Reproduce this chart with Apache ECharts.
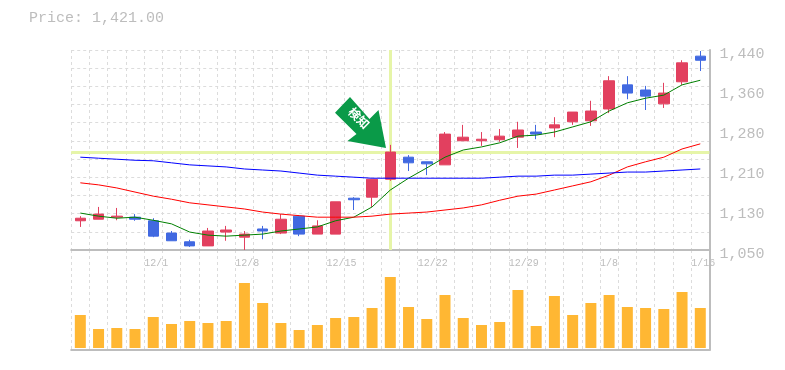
<!DOCTYPE html>
<html><head><meta charset="utf-8">
<style>html,body{margin:0;padding:0;background:#fff}#c{width:785px;height:370px}</style>
<script src="https://cdn.jsdelivr.net/npm/echarts@6/dist/echarts.min.js"></script></head>
<body><div id="c"></div>
<script>
const dates = ['11/25','11/26','11/27','11/28','12/1','12/2','12/3','12/4','12/5','12/8','12/9','12/10','12/11','12/12','12/15','12/16','12/17','12/18','12/19','12/22','12/23','12/24','12/25','12/26','12/29','12/30','1/5','1/6','1/7','1/8','1/9','1/13','1/14','1/15','1/16'];
// [open, close, low, high]
const candles = [
[1107,1112,1095,1116],[1110,1120,1110,1134],[1114,1116,1108,1132],[1114,1110,1107,1120],[1107,1077,1075,1112],
[1083,1068,1068,1087],[1066,1058,1056,1070],[1058,1087,1058,1093],[1085,1089,1068,1097],[1075,1081,1050,1087],
[1091,1087,1071,1097],[1083,1110,1081,1120],[1116,1081,1077,1118],[1081,1097,1081,1108],[1081,1144,1081,1144],
[1151,1148,1128,1153],[1153,1188,1134,1188],[1188,1241,1185,1255],[1231,1220,1204,1235],[1222,1218,1196,1222],
[1216,1276,1216,1280],[1263,1270,1263,1294],[1263,1266,1253,1280],[1265,1272,1261,1286],[1270,1284,1249,1300],
[1280,1276,1266,1294],[1288,1294,1270,1309],[1300,1319,1294,1319],[1302,1321,1292,1341],[1325,1380,1317,1389],
[1372,1356,1344,1389],[1362,1350,1323,1370],[1335,1356,1327,1376],[1378,1415,1372,1420],[1428,1420,1399,1438]];
const maShort = [1122,1116,1112,1114,1108,1101,1085,1079,1077,1079,1081,1087,1091,1095,1107,1114,1134,1167,1190,1210,1231,1245,1251,1259,1272,1274,1280,1290,1300,1321,1337,1346,1352,1372,1381];
const maMid = [1181,1177,1171,1163,1155,1149,1142,1138,1134,1130,1124,1120,1117,1114,1114,1114,1116,1120,1122,1124,1128,1132,1138,1147,1155,1159,1167,1175,1183,1196,1212,1222,1231,1247,1257];
const maLong = [1231,1229,1227,1225,1224,1220,1216,1214,1212,1208,1206,1204,1200,1196,1194,1192,1190,1190,1190,1190,1190,1190,1190,1192,1194,1194,1196,1196,1198,1200,1202,1202,1204,1206,1208];
const volume = [330,190,200,190,310,240,270,250,270,650,450,250,180,230,300,310,400,710,410,290,530,300,230,260,580,220,520,330,450,530,410,400,390,560,400];
const priceTicks = [1050,1128,1206,1284,1362,1440];
const gridTicks = [1050,1085.45,1120.91,1156.36,1191.82,1227.27,1262.73,1298.18,1333.64,1369.09,1404.55,1440];
const labelledDates = ['12/1','12/8','12/15','12/22','12/29','1/8','1/16'];
const crossPrice = 1241, crossDate = '12/18';
const priceText = 'Price: 1,421.00';
const calloutText = '検知';

const GRAY='#bdbdbd', DASH='#dcdcdc', MONO='"Liberation Mono", monospace';
const L=71.2, W=638.2;
const chart = echarts.init(document.getElementById('c'), null, {renderer:'canvas'});
const lineS = (name,data,color)=>({name,type:'line',data,xAxisIndex:0,yAxisIndex:0,symbol:'none',z:4,
  lineStyle:{color,width:1},silent:true});
chart.setOption({
  animation:false, backgroundColor:'#fff',
  title:{text:priceText,left:29,top:11,padding:0,textStyle:{fontFamily:MONO,fontSize:15,fontWeight:'normal',color:GRAY}},
  grid:[{left:L,width:W,top:50,height:200},{left:L,width:W,top:250,height:100}],
  xAxis:[
    {type:'category',gridIndex:0,data:dates,axisLine:{show:true,onZero:false,lineStyle:{color:GRAY,width:2}},axisTick:{show:false},axisLabel:{show:false},
     splitLine:{show:true,interval:0,lineStyle:{color:DASH,type:[3,3],width:1}}},
    {type:'category',gridIndex:1,data:dates,axisLine:{show:true,onZero:false,lineStyle:{color:GRAY,width:2}},axisTick:{show:false},axisLabel:{show:false},
     splitLine:{show:true,interval:0,lineStyle:{color:DASH,type:[3,3],width:1}}},
    {type:'category',gridIndex:0,position:'bottom',boundaryGap:false,data:dates.concat(['']),axisLine:{show:false},axisTick:{show:false},
     axisLabel:{show:true,interval:(i,v)=>labelledDates.includes(v),align:'left',margin:8,fontFamily:MONO,fontSize:10,color:GRAY,hideOverlap:false},splitLine:{show:false}}
  ],
  yAxis:[
    {type:'value',gridIndex:0,position:'right',min:1050,max:1440,axisLine:{show:true,onZero:false,lineStyle:{color:GRAY,width:2}},axisTick:{show:false},splitLine:{show:false},
     axisLabel:{show:true,customValues:priceTicks,margin:10,fontFamily:MONO,fontSize:15,color:GRAY,verticalAlign:'top',lineHeight:8,
       formatter:v=>{const r=Math.round(v/10)*10;return String(r).replace(/(\d)(\d{3})$/,'$1,$2');}}},
    {type:'value',gridIndex:0,position:'left',min:1050,max:1440,axisLine:{show:false},axisLabel:{show:false},
     axisTick:{show:false,customValues:gridTicks},splitLine:{show:true,lineStyle:{color:DASH,type:[3,3],width:1}}},
    {type:'value',gridIndex:1,position:'right',min:-20,max:980,axisLine:{show:true,onZero:false,lineStyle:{color:GRAY,width:2}},axisTick:{show:false},axisLabel:{show:false},splitLine:{show:false}}
  ],
  series:[
    {name:'cross',type:'line',data:[],xAxisIndex:0,yAxisIndex:0,z:1,silent:true,
     markLine:{z:1,silent:true,symbol:'none',animation:false,label:{show:false},lineStyle:{color:'#e6f5a8',width:3,type:'solid'},
       data:[{yAxis:crossPrice},{xAxis:crossDate}]}},
    {name:'price',type:'candlestick',data:candles,xAxisIndex:0,yAxisIndex:0,barWidth:11,z:3,clip:false,silent:true,
     itemStyle:{color:'#e2405f',color0:'#4169e1',borderColor:'#e2405f',borderColor0:'#4169e1',borderWidth:1}},
    lineS('maShort',maShort,'#008000'),
    lineS('maMid',maMid,'#ff0000'),
    lineS('maLong',maLong,'#0000ff'),
    {name:'volume',type:'bar',data:volume,xAxisIndex:1,yAxisIndex:2,barWidth:11,z:3,silent:true,itemStyle:{color:'#ffb733'}}
  ],
  graphic:[
    {type:'polygon',z:20,silent:true,shape:{points:[[350,97],[335,112.7],[356.5,134],[347.5,141],[386,148],[378.5,110],[369.5,119]]},style:{fill:'#0a9a48'}},
    {type:'text',z:21,silent:true,x:359,y:118,rotation:-Math.PI/4,style:{text:calloutText,fill:'#fff',font:'bold 12px "Noto Sans CJK JP"',align:'center',verticalAlign:'middle'}}
  ]
});
</script></body></html>
